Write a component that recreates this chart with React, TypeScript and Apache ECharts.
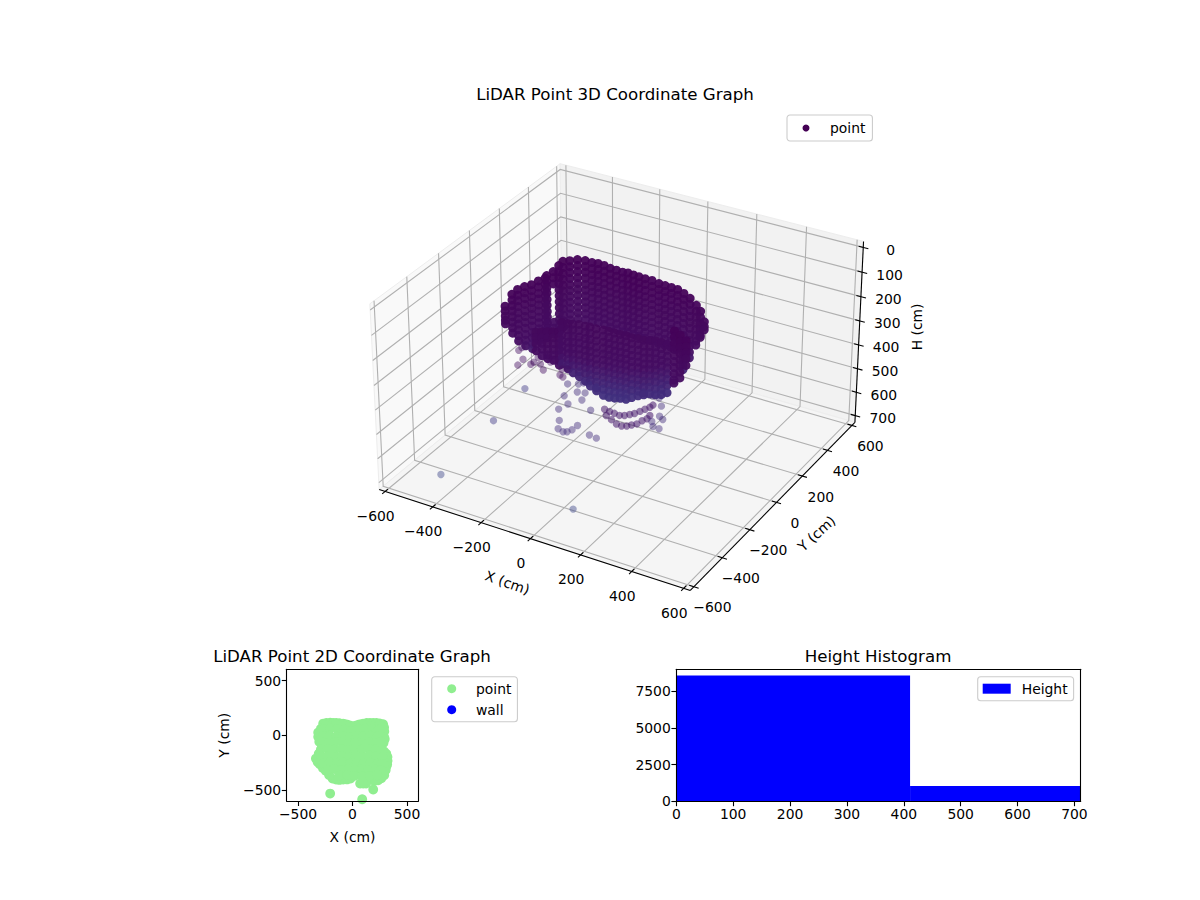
import React, { useEffect, useRef } from "react";
import * as echarts from "echarts";

const FONT = "DejaVu Sans";
const xTicks = [-600, -400, -200, 0, 200, 400, 600];
const yTicks = [-600, -400, -200, 0, 200, 400, 600];
const hTicks = [0, 100, 200, 300, 400, 500, 600, 700];
const ticks2d = [-500, 0, 500];
const histXTicks = [0, 100, 200, 300, 400, 500, 600, 700];
const histYTicks = [0, 2500, 5000, 7500];

// LiDAR columns, far side of the room: x, y, heights (cm)
const backColumns: [number, number, number[]][] = [
  [-360, -190, [121, 140, 160, 178, 192]],
  [-350, -160, [85, 108, 130, 152, 175, 197, 220, 242]],
  [-345, -130, [78, 101, 124, 147, 172, 196, 218, 241, 265, 287]],
  [-335, -100, [78, 103, 126, 150, 176, 199, 223, 247, 272, 296, 319]],
  [-325, -70, [82, 106, 131, 154, 178, 203, 227, 250, 276, 298, 322, 343]],
  [-315, -40, [78, 103, 129, 151, 176, 201, 226, 248, 273, 297, 322]],
  [-305, -10, [78, 102, 127, 150, 176, 200, 224, 249, 274, 297, 322]],
  [-311, 10, [79, 103, 128, 150, 176, 200, 225, 248, 273, 297, 322]],
  [-293, 25, [65, 90, 115, 272, 296, 320]],
  [-279, 40, [44, 69, 93, 118, 142, 166, 191, 215, 240, 264, 289, 313]],
  [-280, 70, [41, 66, 90, 114, 138, 162, 187, 211, 235, 260, 284, 308]],
  [-270, 100, [50, 74, 98, 122, 147, 171, 195, 219, 244, 268, 292]],
  [-250, 120, [49, 73, 98, 122, 146, 170, 194, 219, 243, 267, 291]],
  [-230, 140, [57, 81, 105, 129, 154, 178, 202, 226, 250, 275, 299]],
  [-205, 145, [61, 85, 110, 134, 158, 182, 206, 231, 255, 279, 303]],
  [-180, 145, [58, 82, 106, 131, 155, 179, 203, 228, 252, 276, 300]],
  [-155, 145, [59, 83, 107, 132, 156, 180, 205, 229, 253, 277, 301]],
  [-130, 145, [64, 88, 112, 136, 161, 185, 209, 233, 258, 282, 306]],
  [-105, 145, [65, 89, 113, 138, 162, 186, 210, 235, 259, 283, 307]],
  [-80, 145, [66, 90, 115, 139, 163, 187, 212, 236, 260, 284, 309]],
  [-55, 140, [60, 84, 109, 133, 157, 181, 206, 230, 254, 278, 303]],
  [-30, 135, [59, 83, 108, 132, 156, 180, 204, 229, 253, 277, 301]],
  [-5, 130, [57, 81, 106, 130, 154, 178, 202, 227, 251, 275, 299]],
  [20, 130, [58, 82, 106, 131, 155, 179, 204, 228, 252, 276, 300]],
  [45, 135, [61, 85, 110, 134, 158, 182, 207, 231, 255, 279, 304]],
  [70, 140, [69, 93, 118, 142, 166, 190, 215, 239, 263, 287, 312]],
  [95, 140, [70, 94, 118, 143, 167, 191, 215, 240, 264, 288, 312]],
  [120, 140, [71, 95, 120, 144, 168, 192, 217, 241, 265, 289, 314]],
  [145, 140, [72, 96, 121, 145, 169, 193, 218, 242, 266, 290, 315]],
  [170, 140, [81, 105, 129, 154, 178, 202, 226, 251, 275, 299, 323, 348, 372, 391]],
  [195, 140, [94, 118, 143, 167, 191, 215, 240, 264, 288, 312, 335]],
  [220, 140, [115, 139, 163, 188, 212, 236, 260, 276]],
  [240, 135, [131, 155, 180, 204, 228, 236]],
  [258, 130, [166, 185, 198]],
];

// LiDAR columns, near side
const frontColumns: [number, number, number[]][] = [
  [-229, -200, [184, 207, 230, 259]],
  [-205, -200, [176, 199, 222, 245, 272]],
  [-182, -200, [169, 193, 216, 240, 263, 277]],
  [-158, -200, [162, 186, 210, 233, 256, 277]],
  [-135, -200, [156, 180, 203, 226, 250, 272, 290]],
  [-184, -100, [181, 205, 232, 256, 278, 302, 325, 349]],
  [-159, -100, [179, 203, 230, 254, 278, 300, 324, 346, 363]],
  [-139, -100, [175, 199, 224, 249, 274, 297, 321, 344, 373]],
  [-114, -100, [169, 194, 220, 244, 269, 292, 316, 339, 362, 381]],
  [-89, -100, [169, 193, 219, 244, 267, 291, 315, 338, 362, 393]],
  [-69, -100, [167, 192, 217, 242, 266, 290, 314, 338, 361, 384, 407]],
  [-44, -100, [167, 191, 216, 241, 265, 289, 312, 336, 359, 384, 407, 419]],
  [-19, -95, [167, 192, 216, 241, 264, 288, 312, 336, 359, 384, 408, 433]],
  [1, -90, [169, 194, 218, 242, 266, 290, 314, 337, 361, 386, 412, 438]],
  [21, -85, [173, 197, 222, 246, 270, 294, 317, 341, 365, 389, 414, 438]],
  [41, -80, [175, 199, 223, 247, 271, 295, 319, 342, 366, 390, 413, 435]],
  [61, -75, [177, 201, 225, 249, 272, 296, 320, 344, 367, 391, 414, 436]],
  [81, -70, [182, 206, 230, 254, 278, 302, 325, 349, 372, 396, 425]],
  [101, -60, [184, 208, 232, 256, 280, 304, 327, 351, 374, 398, 417]],
  [121, -55, [188, 212, 236, 260, 284, 307, 331, 354, 378, 401, 410]],
  [136, -40, [192, 216, 240, 264, 288, 311, 335, 359, 382, 409]],
  [151, -25, [197, 221, 245, 269, 293, 316, 340, 364, 392, 416]],
  [166, -10, [207, 231, 255, 279, 302, 326, 350, 374, 397, 419]],
  [181, 5, [217, 241, 265, 289, 312, 336, 360, 384, 414]],
  [277, -120, [75, 99, 124, 148, 172, 196, 220, 245, 270, 282]],
  [300, -120, [85, 110, 134, 158, 182, 206, 231, 255]],
  [323, -120, [100, 124, 148, 172, 198]],
];

// the loose points under the main mass: x, y, height
const lowerArcs = [
  [112, -311, 338], [134, -315, 338], [155, -318, 338], [177, -321, 338], [192, -313, 338], [204, -298, 338],
  [215, -284, 338], [224, -263, 338], [232, -242, 338], [240, -222, 338], [242, -204, 338],
  [138, -344, 338], [167, -359, 338], [196, -375, 338], [218, -378, 338], [233, -369, 338], [244, -355, 338],
  [256, -340, 338], [261, -313, 338], [269, -293, 338], [267, -270, 338],
];
const strayPoints = [
  [-330, -133, 308], [-329, -156, 308], [-283, -202, 308], [-277, -246, 308], [-241, -218, 308], [-239, -201, 308],
  [-244, -164, 308], [-212, -201, 308], [-182, -231, 308], [-189, -171, 308], [-181, -151, 308], [-129, -193, 308],
  [-114, -184, 308], [-114, -231, 308], [-98, -238, 308], [-147, -126, 408], [-115, -203, 408], [-75, -244, 408],
  [-85, -290, 408], [-47, -196, 408], [-114, -107, 408], [-102, -92, 408], [-87, -84, 408], [-89, -157, 408],
  [-62, -149, 408], [15, -241, 408], [-44, -354, 408], [-19, -403, 408], [6, -412, 408], [18, -405, 408],
  [26, -385, 408], [28, -352, 408], [95, -385, 408], [126, -391, 408], [152, -49, 408], [180, -49, 408],
  [214, -94, 408], [242, -157, 408], [262, -170, 408], [256, -228, 408], [281, -230, 408], [236, -201, 408],
  [-343, -98, 500], [-322, -342, 500], [-421, -536, 650], [94, -496, 650],
];

// 2D view of the same room, x and y
const footprint = [
  [-269, 107], [-240, 112], [-205, 115], [-177, 113], [-150, 113], [-120, 110], [-86, 107], [-55, 100], [-25, 90], [6, 83],
  [35, 90], [65, 100], [98, 107], [130, 112], [160, 113], [190, 113], [220, 112], [250, 108], [281, 101],
  [290, 70], [292, 35], [290, -15], [296, -35], [285, -70], [266, -122], [290, -150], [310, -170], [321, -199], [322, -235],
  [318, -266], [312, -284], [305, -320], [291, -367], [265, -395], [235, -413], [200, -420],
  [125, -443], [98, -443], [70, -443], [-18, -398], [-50, -405], [-86, -407], [-120, -410], [-150, -407],
  [-183, -398], [-215, -365], [-245, -327], [-272, -300], [-300, -266], [-320, -245], [-336, -214], [-310, -170], [-284, -122],
  [-305, -60], [-315, -15], [-315, 25], [-290, 60],
  [-205, -535], [89, -587], [190, -498],
  [-262, 55], [-205, 62], [-140, 58], [-75, 52], [-12, 40], [52, 55], [115, 60], [180, 56], [240, 50],
  [-270, -10], [-210, -5], [-150, -12], [-88, -8], [-25, -15], [40, -6], [102, -10], [165, -4], [228, -12],
  [-285, -65], [-222, -70], [-160, -62], [-98, -68], [-35, -72], [28, -66], [90, -70], [152, -64], [215, -72], [265, -60],
  [-290, -130], [-228, -125], [-165, -132], [-102, -128], [-40, -135], [22, -126], [85, -132], [148, -125], [210, -130], [268, -135],
  [-285, -195], [-222, -190], [-160, -198], [-98, -192], [-35, -200], [28, -190], [90, -196], [152, -188], [215, -195], [275, -200],
  [-270, -255], [-210, -250], [-148, -258], [-85, -252], [-22, -260], [40, -250], [102, -258], [165, -252], [228, -260], [275, -262],
  [-225, -315], [-165, -310], [-102, -318], [-40, -312], [22, -320], [85, -312], [148, -320], [210, -315], [262, -320],
  [-120, -370], [-50, -365], [20, -372], [90, -378], [160, -372], [225, -368],
];
const wallPoints: number[][] = [];

// histogram bins: from, to, count
const heightBins = [
  [0, 411, 8587],
  [411, 711, 1040],
];

// same camera maths as mplot3d, the result goes on a plain value axis
function project(x: number, y: number, h: number) {
  const qx = (x / 625) * 0.62;
  const qy = (y / 625) * 0.62;
  const qz = ((352.5 - h) / 376.5) * 0.37;
  const qu = 0.866 * qx + 0.5 * qy;
  const qv = -0.25 * qx + 0.433 * qy + 0.866 * qz;
  const qn = 0.433 * qx - 0.75 * qy + 0.5 * qz;
  return [qu / (10 - qn), qv / (10 - qn)];
}

const minus = (v: number | string) => String(v).replace("-", "\u2212");

function cloudData() {
  const out: any[] = [];
  const push = (x: number, y: number, h: number, opacity: number, symbolSize: number) => {
    const p = project(x, y, h);
    out.push({ value: [p[0], p[1], h], symbolSize, itemStyle: { opacity } });
  };
  backColumns.forEach(([x, y, hs]) => hs.forEach((h) => push(x, y, h, 0.95, 9)));
  frontColumns.forEach(([x, y, hs]) => hs.forEach((h) => push(x, y, h, 0.95, 9)));
  lowerArcs.forEach(([x, y, h]) => push(x, y, h, 0.55, 7.4));
  strayPoints.forEach(([x, y, h]) => push(x, y, h, 0.45, 7.4));
  return out;
}

function renderFrame(_params: any, api: any) {
  const X0 = -625, X1 = 625, Y0 = -625, Y1 = 625, HB = 729, HT = -24;
  const pt = (x: number, y: number, h: number) => api.coord(project(x, y, h));
  const kids: any[] = [];
  const pane = (points: number[][], fill: string) =>
    kids.push({ type: "polygon", shape: { points }, style: { fill, stroke: "#ededed", lineWidth: 1 } });
  const line = (points: number[][], stroke: string) =>
    kids.push({ type: "polyline", shape: { points }, style: { fill: "none", stroke, lineWidth: 1.1 } });
  const text = (s: string, x: number, y: number, rotation = 0) =>
    kids.push({
      type: "text",
      x,
      y,
      rotation,
      style: { text: s, fill: "#000", fontSize: 13.9, fontFamily: FONT, align: "center", verticalAlign: "middle" },
    });

  pane([pt(X0, Y0, HB), pt(X0, Y1, HB), pt(X0, Y1, HT), pt(X0, Y0, HT)], "#f9f9f9");
  pane([pt(X0, Y1, HB), pt(X1, Y1, HB), pt(X1, Y1, HT), pt(X0, Y1, HT)], "#f2f2f2");
  pane([pt(X0, Y0, HB), pt(X1, Y0, HB), pt(X1, Y1, HB), pt(X0, Y1, HB)], "#f5f5f5");

  const gridColor = "#b0b0b0";
  xTicks.forEach((v) => line([pt(v, Y0, HB), pt(v, Y1, HB), pt(v, Y1, HT)], gridColor));
  yTicks.forEach((v) => line([pt(X1, v, HB), pt(X0, v, HB), pt(X0, v, HT)], gridColor));
  hTicks.forEach((v) => line([pt(X0, Y0, v), pt(X0, Y1, v), pt(X1, Y1, v)], gridColor));

  line([pt(X0, Y0, HB), pt(X1, Y0, HB)], "#000");
  line([pt(X1, Y0, HB), pt(X1, Y1, HB)], "#000");
  line([pt(X1, Y1, HB), pt(X1, Y1, HT)], "#000");

  xTicks.forEach((v) => {
    line([pt(v, Y0 - 18, HB), pt(v, Y0 + 18, HB)], "#000");
    const c = pt(v, Y0, HB);
    text(minus(v), c[0] - 9.5, c[1] + 24.5);
  });
  yTicks.forEach((v) => {
    line([pt(X1 - 18, v, HB), pt(X1 + 18, v, HB)], "#000");
    const c = pt(X1, v, HB);
    text(minus(v), c[0] + 18.5, c[1] + 20.5);
  });
  hTicks.forEach((v) => {
    line([pt(X1 - 18, Y1, v), pt(X1 + 20, Y1, v)], "#000");
    const c = pt(X1, Y1, v);
    text(String(v), c[0] + 27.5, c[1] + 2.5);
  });

  const xm = pt(0, Y0, HB);
  text("X (cm)", xm[0] - 23, xm[1] + 44, (-19 * Math.PI) / 180);
  const ym = pt(X1, 0, HB);
  text("Y (cm)", ym[0] + 40, ym[1] + 31, (42 * Math.PI) / 180);
  const hm = pt(X1, Y1, 350);
  text("H (cm)", hm[0] + 58, hm[1] - 6, Math.PI / 2);

  return { type: "group", children: kids };
}

function renderBin(_params: any, api: any) {
  const a = api.coord([api.value(0), api.value(2)]);
  const b = api.coord([api.value(1), 0]);
  return {
    type: "rect",
    shape: { x: a[0], y: a[1], width: b[0] - a[0], height: b[1] - a[1] },
    style: { fill: "#0000ff" },
  };
}

const tickStyle = { show: true, length: 4.9, lineStyle: { color: "#000", width: 1.1 } };
const labelStyle = { color: "#000", fontSize: 13.9, fontFamily: FONT, margin: 5.5 };

function mainAxis(gridIndex: number, position: string, min: number, max: number, values: number[], extra: any = {}) {
  return {
    type: "value",
    gridIndex,
    position,
    min,
    max,
    z: 5,
    axisLine: { show: true, onZero: false, lineStyle: { color: "#000", width: 1.1 } },
    axisTick: { ...tickStyle, customValues: values },
    axisLabel: { ...labelStyle, customValues: values, formatter: (v: number) => minus(v) },
    splitLine: { show: false },
    ...extra,
  };
}

function edgeAxis(gridIndex: number, position: string, min: number, max: number) {
  return {
    type: "value",
    gridIndex,
    position,
    min,
    max,
    z: 5,
    axisLine: { show: true, onZero: false, lineStyle: { color: "#000", width: 1.1 } },
    axisTick: { show: false },
    axisLabel: { show: false },
    splitLine: { show: false },
  };
}

const legendBase = {
  orient: "vertical",
  selectedMode: false,
  borderColor: "#cccccc",
  borderWidth: 1.1,
  borderRadius: 3,
  backgroundColor: "rgba(255,255,255,0.8)",
  textStyle: { color: "#000", fontSize: 13.9, fontFamily: FONT },
};

const titleText = { color: "#000", fontSize: 16.67, fontWeight: "normal", fontFamily: FONT };

export default function App() {
  const chartRef = useRef<HTMLDivElement>(null);

  useEffect(() => {
    if (!chartRef.current) return;
    const chart = echarts.init(chartRef.current, undefined, { renderer: "svg" });
    chart.setOption({
      animation: false,
      backgroundColor: "#ffffff",
      title: [
        { text: "LiDAR Point 3D Coordinate Graph", left: 615, top: 86, textAlign: "center", padding: 0, textStyle: titleText },
        { text: "LiDAR Point 2D Coordinate Graph", left: 352, top: 647.5, textAlign: "center", padding: 0, textStyle: titleText },
        { text: "Height Histogram", left: 878, top: 647.5, textAlign: "center", padding: 0, textStyle: titleText },
      ],
      legend: [
        {
          ...legendBase,
          left: 787,
          top: 115,
          padding: [6, 7, 6, 15.5],
          itemWidth: 38,
          itemHeight: 7,
          data: [{ name: "point", icon: "circle", itemStyle: { color: "#440154", opacity: 1 } }],
        },
        {
          ...legendBase,
          left: 431.7,
          top: 676.7,
          padding: [5, 6, 5, 15.5],
          itemWidth: 38.6,
          itemHeight: 9,
          itemGap: 7,
          data: [
            { name: "point2d", icon: "circle", itemStyle: { color: "#90ee90", opacity: 1 } },
            { name: "wall", icon: "circle", itemStyle: { color: "#0000ff", opacity: 1 } },
          ],
          formatter: (n: string) => (n === "point2d" ? "point" : n),
        },
        {
          ...legendBase,
          left: 977.7,
          top: 676.7,
          padding: [5, 6, 5, 5],
          itemWidth: 28,
          itemHeight: 10,
          textStyle: { ...legendBase.textStyle, padding: [0, 0, 0, 6] },
          data: [{ name: "Height", icon: "rect", itemStyle: { color: "#0000ff", opacity: 1 } }],
        },
      ],
      grid: [
        { left: 350, top: 108, width: 529, height: 529 },
        { left: 286.7, top: 669.3, width: 131.6, height: 131.8 },
        { left: 676.3, top: 669.3, width: 404.4, height: 132 },
      ],
      xAxis: [
        { type: "value", gridIndex: 0, min: -0.095, max: 0.09, show: false },
        mainAxis(1, "bottom", -604, 604, ticks2d, {
          name: "X (cm)",
          nameLocation: "middle",
          nameGap: 29,
          nameTextStyle: { color: "#000", fontSize: 13.9, fontFamily: FONT },
        }),
        edgeAxis(1, "top", -604, 604),
        mainAxis(2, "bottom", 0, 711, histXTicks),
        edgeAxis(2, "top", 0, 711),
      ],
      yAxis: [
        { type: "value", gridIndex: 0, min: -0.095, max: 0.09, show: false },
        mainAxis(1, "left", -604, 604, ticks2d, {
          name: "Y (cm)",
          nameLocation: "middle",
          nameGap: 56,
          nameTextStyle: { color: "#000", fontSize: 13.9, fontFamily: FONT },
        }),
        edgeAxis(1, "right", -604, 604),
        mainAxis(2, "left", 0, 9016, histYTicks),
        edgeAxis(2, "right", 0, 9016),
      ],
      visualMap: {
        show: false,
        type: "continuous",
        seriesIndex: 1,
        dimension: 2,
        min: 0,
        max: 714,
        inRange: { color: ["#440154", "#44035a", "#450a5e", "#450d62", "#412a7a", "#3f3a85", "#3e4489", "#3e4a89"] },
      },
      series: [
        {
          type: "custom",
          name: "frame",
          xAxisIndex: 0,
          yAxisIndex: 0,
          silent: true,
          clip: false,
          z: 1,
          data: [[0, 0]],
          renderItem: renderFrame,
        },
        {
          type: "scatter",
          name: "point",
          xAxisIndex: 0,
          yAxisIndex: 0,
          symbol: "circle",
          silent: true,
          z: 2,
          data: cloudData(),
        },
        {
          type: "scatter",
          name: "point2d",
          xAxisIndex: 1,
          yAxisIndex: 1,
          symbol: "circle",
          symbolSize: 9.8,
          silent: true,
          itemStyle: { color: "#90ee90", opacity: 1 },
          data: footprint,
        },
        {
          type: "scatter",
          name: "wall",
          xAxisIndex: 1,
          yAxisIndex: 1,
          symbolSize: 9.8,
          itemStyle: { color: "#0000ff" },
          data: wallPoints,
        },
        {
          type: "custom",
          name: "Height",
          xAxisIndex: 3,
          yAxisIndex: 3,
          silent: true,
          itemStyle: { color: "#0000ff" },
          encode: { x: [0, 1], y: 2 },
          data: heightBins,
          renderItem: renderBin,
        },
      ],
    });
    return () => chart.dispose();
  }, []);

  return <div ref={chartRef} style={{ position: "absolute", left: 0, top: 0, width: 1200, height: 900 }} />;
}
